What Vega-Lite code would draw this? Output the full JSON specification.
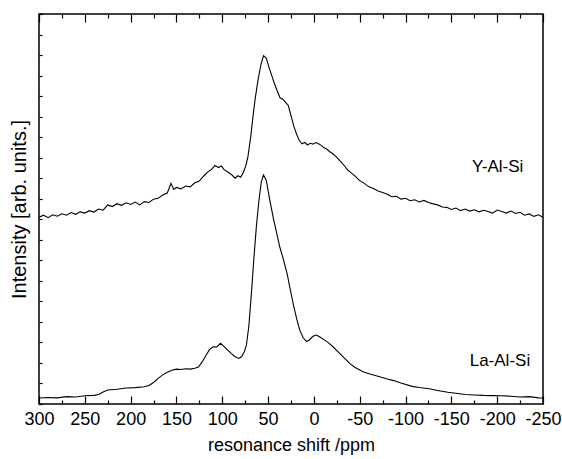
{
  "$schema": "https://vega.github.io/schema/vega-lite/v6.json",
  "width": 504,
  "height": 390,
  "autosize": {"type": "none"},
  "padding": {"left": 39, "top": 14, "right": 19, "bottom": 55},
  "background": "white",
  "config": {
    "view": {"stroke": "black", "strokeWidth": 1.5},
    "font": "Liberation Sans",
    "axis": {"domain": false, "grid": false, "tickColor": "black", "tickWidth": 1.2, "labelColor": "black", "titleColor": "black", "labelFont": "Liberation Sans", "titleFont": "Liberation Sans", "titleFontWeight": "normal"}
  },
  "datasets": {
    "spec": [
      {"sample": "Y", "ppm": 300, "v": 9.10}, {"sample": "Y", "ppm": 295, "v": 9.20}, {"sample": "Y", "ppm": 290, "v": 9.08}, {"sample": "Y", "ppm": 285, "v": 9.22},
      {"sample": "Y", "ppm": 280, "v": 9.15}, {"sample": "Y", "ppm": 275, "v": 9.27}, {"sample": "Y", "ppm": 270, "v": 9.20}, {"sample": "Y", "ppm": 265, "v": 9.33},
      {"sample": "Y", "ppm": 260, "v": 9.24}, {"sample": "Y", "ppm": 255, "v": 9.36}, {"sample": "Y", "ppm": 250, "v": 9.30}, {"sample": "Y", "ppm": 245, "v": 9.42},
      {"sample": "Y", "ppm": 240, "v": 9.35}, {"sample": "Y", "ppm": 235, "v": 9.50}, {"sample": "Y", "ppm": 230, "v": 9.44}, {"sample": "Y", "ppm": 225, "v": 9.70},
      {"sample": "Y", "ppm": 220, "v": 9.62}, {"sample": "Y", "ppm": 215, "v": 9.76}, {"sample": "Y", "ppm": 210, "v": 9.68}, {"sample": "Y", "ppm": 205, "v": 9.80},
      {"sample": "Y", "ppm": 200, "v": 9.72}, {"sample": "Y", "ppm": 195, "v": 9.84}, {"sample": "Y", "ppm": 190, "v": 9.70}, {"sample": "Y", "ppm": 185, "v": 9.86},
      {"sample": "Y", "ppm": 180, "v": 9.82}, {"sample": "Y", "ppm": 175, "v": 9.98}, {"sample": "Y", "ppm": 170, "v": 10.02}, {"sample": "Y", "ppm": 165, "v": 10.18},
      {"sample": "Y", "ppm": 160, "v": 10.28}, {"sample": "Y", "ppm": 156, "v": 10.75}, {"sample": "Y", "ppm": 153, "v": 10.45}, {"sample": "Y", "ppm": 150, "v": 10.55},
      {"sample": "Y", "ppm": 145, "v": 10.48}, {"sample": "Y", "ppm": 140, "v": 10.62}, {"sample": "Y", "ppm": 135, "v": 10.58}, {"sample": "Y", "ppm": 130, "v": 10.78},
      {"sample": "Y", "ppm": 125, "v": 10.86}, {"sample": "Y", "ppm": 120, "v": 11.12}, {"sample": "Y", "ppm": 116, "v": 11.30}, {"sample": "Y", "ppm": 112, "v": 11.42},
      {"sample": "Y", "ppm": 108, "v": 11.62}, {"sample": "Y", "ppm": 104, "v": 11.52}, {"sample": "Y", "ppm": 101, "v": 11.60}, {"sample": "Y", "ppm": 98, "v": 11.42},
      {"sample": "Y", "ppm": 94, "v": 11.30}, {"sample": "Y", "ppm": 90, "v": 11.18}, {"sample": "Y", "ppm": 86, "v": 11.00}, {"sample": "Y", "ppm": 83, "v": 11.12},
      {"sample": "Y", "ppm": 80, "v": 11.05}, {"sample": "Y", "ppm": 77, "v": 11.28}, {"sample": "Y", "ppm": 74, "v": 11.65}, {"sample": "Y", "ppm": 72, "v": 12.05},
      {"sample": "Y", "ppm": 69, "v": 13.0}, {"sample": "Y", "ppm": 66.5, "v": 14.0}, {"sample": "Y", "ppm": 64, "v": 14.9}, {"sample": "Y", "ppm": 61, "v": 15.78},
      {"sample": "Y", "ppm": 58, "v": 16.5}, {"sample": "Y", "ppm": 55, "v": 16.97}, {"sample": "Y", "ppm": 52, "v": 16.85}, {"sample": "Y", "ppm": 49, "v": 16.4},
      {"sample": "Y", "ppm": 46, "v": 16.0}, {"sample": "Y", "ppm": 43, "v": 15.6}, {"sample": "Y", "ppm": 40, "v": 15.25}, {"sample": "Y", "ppm": 37, "v": 14.92},
      {"sample": "Y", "ppm": 34, "v": 14.85}, {"sample": "Y", "ppm": 31, "v": 14.70}, {"sample": "Y", "ppm": 28, "v": 14.55}, {"sample": "Y", "ppm": 25, "v": 14.05},
      {"sample": "Y", "ppm": 22, "v": 13.55}, {"sample": "Y", "ppm": 19, "v": 13.15}, {"sample": "Y", "ppm": 16, "v": 12.85}, {"sample": "Y", "ppm": 13, "v": 12.68},
      {"sample": "Y", "ppm": 10, "v": 12.74}, {"sample": "Y", "ppm": 7, "v": 12.62}, {"sample": "Y", "ppm": 4, "v": 12.70}, {"sample": "Y", "ppm": 1, "v": 12.66},
      {"sample": "Y", "ppm": -2, "v": 12.74}, {"sample": "Y", "ppm": -5, "v": 12.68}, {"sample": "Y", "ppm": -8, "v": 12.60}, {"sample": "Y", "ppm": -11, "v": 12.48},
      {"sample": "Y", "ppm": -14, "v": 12.42}, {"sample": "Y", "ppm": -17, "v": 12.30}, {"sample": "Y", "ppm": -21, "v": 12.18}, {"sample": "Y", "ppm": -25, "v": 12.02},
      {"sample": "Y", "ppm": -29, "v": 11.82}, {"sample": "Y", "ppm": -33, "v": 11.62}, {"sample": "Y", "ppm": -37, "v": 11.40}, {"sample": "Y", "ppm": -41, "v": 11.25},
      {"sample": "Y", "ppm": -45, "v": 11.10}, {"sample": "Y", "ppm": -50, "v": 10.88}, {"sample": "Y", "ppm": -55, "v": 10.75}, {"sample": "Y", "ppm": -60, "v": 10.58},
      {"sample": "Y", "ppm": -65, "v": 10.50}, {"sample": "Y", "ppm": -70, "v": 10.38}, {"sample": "Y", "ppm": -75, "v": 10.30}, {"sample": "Y", "ppm": -80, "v": 10.22},
      {"sample": "Y", "ppm": -85, "v": 10.10}, {"sample": "Y", "ppm": -90, "v": 10.12}, {"sample": "Y", "ppm": -95, "v": 9.98}, {"sample": "Y", "ppm": -100, "v": 10.02},
      {"sample": "Y", "ppm": -105, "v": 9.90}, {"sample": "Y", "ppm": -110, "v": 9.95}, {"sample": "Y", "ppm": -115, "v": 9.84}, {"sample": "Y", "ppm": -120, "v": 9.92},
      {"sample": "Y", "ppm": -125, "v": 9.82}, {"sample": "Y", "ppm": -130, "v": 9.75}, {"sample": "Y", "ppm": -135, "v": 9.70}, {"sample": "Y", "ppm": -140, "v": 9.60},
      {"sample": "Y", "ppm": -145, "v": 9.58}, {"sample": "Y", "ppm": -150, "v": 9.48}, {"sample": "Y", "ppm": -155, "v": 9.55}, {"sample": "Y", "ppm": -160, "v": 9.42},
      {"sample": "Y", "ppm": -165, "v": 9.50}, {"sample": "Y", "ppm": -170, "v": 9.40}, {"sample": "Y", "ppm": -175, "v": 9.46}, {"sample": "Y", "ppm": -180, "v": 9.36},
      {"sample": "Y", "ppm": -185, "v": 9.44}, {"sample": "Y", "ppm": -190, "v": 9.38}, {"sample": "Y", "ppm": -195, "v": 9.30}, {"sample": "Y", "ppm": -200, "v": 9.45},
      {"sample": "Y", "ppm": -205, "v": 9.38}, {"sample": "Y", "ppm": -210, "v": 9.30}, {"sample": "Y", "ppm": -215, "v": 9.40}, {"sample": "Y", "ppm": -220, "v": 9.28},
      {"sample": "Y", "ppm": -225, "v": 9.34}, {"sample": "Y", "ppm": -230, "v": 9.20}, {"sample": "Y", "ppm": -235, "v": 9.26}, {"sample": "Y", "ppm": -240, "v": 9.14},
      {"sample": "Y", "ppm": -245, "v": 9.22}, {"sample": "Y", "ppm": -250, "v": 9.10},
      {"sample": "La", "ppm": 300, "v": 0.29}, {"sample": "La", "ppm": 290, "v": 0.32}, {"sample": "La", "ppm": 280, "v": 0.30}, {"sample": "La", "ppm": 270, "v": 0.36},
      {"sample": "La", "ppm": 260, "v": 0.34}, {"sample": "La", "ppm": 250, "v": 0.40}, {"sample": "La", "ppm": 240, "v": 0.42}, {"sample": "La", "ppm": 235, "v": 0.46},
      {"sample": "La", "ppm": 230, "v": 0.58}, {"sample": "La", "ppm": 225, "v": 0.68}, {"sample": "La", "ppm": 215, "v": 0.72}, {"sample": "La", "ppm": 205, "v": 0.78},
      {"sample": "La", "ppm": 195, "v": 0.80}, {"sample": "La", "ppm": 185, "v": 0.84}, {"sample": "La", "ppm": 180, "v": 0.90}, {"sample": "La", "ppm": 175, "v": 1.05},
      {"sample": "La", "ppm": 170, "v": 1.25}, {"sample": "La", "ppm": 165, "v": 1.42}, {"sample": "La", "ppm": 160, "v": 1.55}, {"sample": "La", "ppm": 155, "v": 1.64},
      {"sample": "La", "ppm": 150, "v": 1.70}, {"sample": "La", "ppm": 145, "v": 1.68}, {"sample": "La", "ppm": 140, "v": 1.72}, {"sample": "La", "ppm": 135, "v": 1.70},
      {"sample": "La", "ppm": 130, "v": 1.74}, {"sample": "La", "ppm": 126, "v": 1.80}, {"sample": "La", "ppm": 122, "v": 2.05}, {"sample": "La", "ppm": 118, "v": 2.35},
      {"sample": "La", "ppm": 114, "v": 2.65}, {"sample": "La", "ppm": 110, "v": 2.79}, {"sample": "La", "ppm": 106, "v": 2.78}, {"sample": "La", "ppm": 102, "v": 2.96},
      {"sample": "La", "ppm": 98, "v": 2.80}, {"sample": "La", "ppm": 94, "v": 2.62}, {"sample": "La", "ppm": 90, "v": 2.45}, {"sample": "La", "ppm": 86, "v": 2.30},
      {"sample": "La", "ppm": 82, "v": 2.22}, {"sample": "La", "ppm": 79, "v": 2.30}, {"sample": "La", "ppm": 76, "v": 2.55}, {"sample": "La", "ppm": 73.7, "v": 2.85},
      {"sample": "La", "ppm": 71, "v": 3.8}, {"sample": "La", "ppm": 68.2, "v": 5.39}, {"sample": "La", "ppm": 65.5, "v": 7.1}, {"sample": "La", "ppm": 62.8, "v": 8.64},
      {"sample": "La", "ppm": 60, "v": 9.9}, {"sample": "La", "ppm": 57.5, "v": 10.8}, {"sample": "La", "ppm": 55, "v": 11.16}, {"sample": "La", "ppm": 52, "v": 10.9},
      {"sample": "La", "ppm": 48.2, "v": 9.94}, {"sample": "La", "ppm": 44, "v": 9.0}, {"sample": "La", "ppm": 40, "v": 8.2}, {"sample": "La", "ppm": 37.3, "v": 7.66},
      {"sample": "La", "ppm": 33, "v": 7.0}, {"sample": "La", "ppm": 29, "v": 6.3}, {"sample": "La", "ppm": 26.4, "v": 5.71}, {"sample": "La", "ppm": 22, "v": 4.75},
      {"sample": "La", "ppm": 18.5, "v": 4.1}, {"sample": "La", "ppm": 15.5, "v": 3.61}, {"sample": "La", "ppm": 12, "v": 3.25}, {"sample": "La", "ppm": 8.2, "v": 3.04},
      {"sample": "La", "ppm": 5, "v": 3.12}, {"sample": "La", "ppm": 1, "v": 3.30}, {"sample": "La", "ppm": -2.7, "v": 3.36}, {"sample": "La", "ppm": -7, "v": 3.25},
      {"sample": "La", "ppm": -12, "v": 3.10}, {"sample": "La", "ppm": -16, "v": 2.98}, {"sample": "La", "ppm": -20.8, "v": 2.79}, {"sample": "La", "ppm": -27, "v": 2.52},
      {"sample": "La", "ppm": -33, "v": 2.25}, {"sample": "La", "ppm": -39, "v": 1.98}, {"sample": "La", "ppm": -45, "v": 1.78}, {"sample": "La", "ppm": -53.6, "v": 1.57},
      {"sample": "La", "ppm": -62, "v": 1.45}, {"sample": "La", "ppm": -71.8, "v": 1.33}, {"sample": "La", "ppm": -80, "v": 1.22}, {"sample": "La", "ppm": -87, "v": 1.14},
      {"sample": "La", "ppm": -95, "v": 1.02}, {"sample": "La", "ppm": -107, "v": 0.86}, {"sample": "La", "ppm": -115, "v": 0.80}, {"sample": "La", "ppm": -126, "v": 0.74},
      {"sample": "La", "ppm": -135, "v": 0.66}, {"sample": "La", "ppm": -146, "v": 0.57}, {"sample": "La", "ppm": -155, "v": 0.52}, {"sample": "La", "ppm": -165, "v": 0.46},
      {"sample": "La", "ppm": -175, "v": 0.44}, {"sample": "La", "ppm": -185, "v": 0.42}, {"sample": "La", "ppm": -195, "v": 0.41}, {"sample": "La", "ppm": -204, "v": 0.40},
      {"sample": "La", "ppm": -215, "v": 0.38}, {"sample": "La", "ppm": -225, "v": 0.34}, {"sample": "La", "ppm": -235, "v": 0.36}, {"sample": "La", "ppm": -245, "v": 0.30},
      {"sample": "La", "ppm": -250, "v": 0.29}
    ],
    "labels": [
      {"name": "Y-Al-Si", "ppm": -200.5, "v": 11.55},
      {"name": "La-Al-Si", "ppm": -203, "v": 2.11}
    ]
  },
  "layer": [
    {
      "data": {"name": "spec"},
      "mark": {"type": "line", "color": "black", "strokeWidth": 1.1},
      "encoding": {
        "x": {
          "field": "ppm", "type": "quantitative",
          "scale": {"domain": [-250, 300], "reverse": true, "nice": false, "zero": false},
          "axis": {
            "orient": "bottom",
            "values": [-250, -225, -200, -175, -150, -125, -100, -75, -50, -25, 0, 25, 50, 75, 100, 125, 150, 175, 200, 225, 250, 275, 300],
            "labelExpr": "datum.value % 50 === 0 ? '' + datum.value : ''",
            "tickSize": {"condition": {"test": "datum.value % 50 === 0", "value": -8}, "value": -4},
            "labelPadding": 14,
            "labelFontSize": 18,
            "labelBaseline": "top",
            "labelFlush": false,
            "labelOverlap": false,
            "labelBound": false,
            "title": "resonance shift /ppm",
            "titleFontSize": 18,
            "titlePadding": 4
          }
        },
        "y": {
          "field": "v", "type": "quantitative",
          "scale": {"domain": [0, 19], "nice": false, "zero": false},
          "axis": {
            "orient": "left",
            "values": [0, 1, 2, 3, 4, 5, 6, 7, 8, 9, 10, 11, 12, 13, 14, 15, 16, 17, 18, 19],
            "labels": false,
            "tickSize": -3,
            "title": "Intensity [arb. units.]",
            "titleFontSize": 20,
            "titlePadding": 9
          }
        },
        "detail": {"field": "sample", "type": "nominal"}
      }
    },
    {
      "data": {"name": "spec"},
      "mark": {"type": "line", "opacity": 0},
      "encoding": {
        "x": {
          "field": "ppm", "type": "quantitative",
          "axis": {
            "orient": "top",
            "values": [-250, -225, -200, -175, -150, -125, -100, -75, -50, -25, 0, 25, 50, 75, 100, 125, 150, 175, 200, 225, 250, 275, 300],
            "labels": false,
            "tickSize": {"condition": {"test": "datum.value % 50 === 0", "value": -8}, "value": -4},
            "title": null
          }
        },
        "y": {"field": "v", "type": "quantitative", "axis": null},
        "detail": {"field": "sample", "type": "nominal"}
      }
    },
    {
      "data": {"name": "labels"},
      "mark": {"type": "text", "fontSize": 17, "color": "black", "align": "center", "baseline": "middle"},
      "encoding": {
        "x": {"field": "ppm", "type": "quantitative", "axis": null},
        "y": {"field": "v", "type": "quantitative", "axis": null},
        "text": {"field": "name"}
      }
    }
  ],
  "resolve": {"axis": {"x": "independent", "y": "independent"}}
}
